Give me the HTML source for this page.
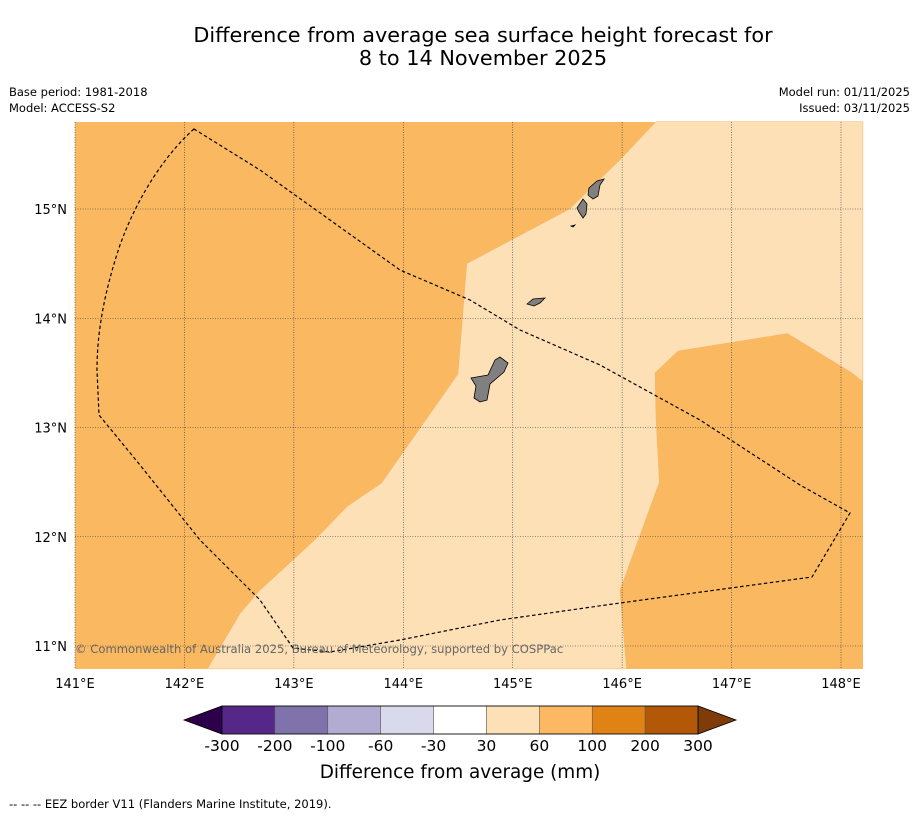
<!DOCTYPE html>
<html><head><meta charset="utf-8"><style>
body{margin:0;background:#fff;font-family:"DejaVu Sans",sans-serif;}
svg text{font-family:"DejaVu Sans",sans-serif;}
</style></head><body>
<svg width="919" height="816" viewBox="0 0 919 816">
<text x="483" y="42" font-size="20.8" text-anchor="middle">Difference from average sea surface height forecast for</text>
<text x="483" y="65" font-size="20.8" text-anchor="middle">8 to 14 November 2025</text>
<text x="9" y="96" font-size="11.5">Base period: 1981-2018</text>
<text x="9" y="112" font-size="11.5">Model: ACCESS-S2</text>
<text x="910" y="96" font-size="11.5" text-anchor="end">Model run: 01/11/2025</text>
<text x="910" y="112" font-size="11.5" text-anchor="end">Issued: 03/11/2025</text>
<g id="map"></g>
<g id="cbar"></g>
<text x="460" y="778" font-size="18.4" text-anchor="middle">Difference from average (mm)</text>
<text x="9" y="808" font-size="11.5">--  --  -- EEZ border V11 (Flanders Marine Institute, 2019).</text>
</svg>
<script>
const lonTicks=[141,142,143,144,145,146,147,148];
const latTicks=[11,12,13,14,15];
const regionLon=[146.31,148.2,148.2,148.1,147.51,146.51,146.3,146.31,146.34,145.98,146.04,142.21,142.51,142.69,143.19,143.49,143.8,144.5,144.58,145.52,145.98];
const regionLat=[15.8,15.8,13.42,13.5,13.86,13.7,13.5,13.07,12.5,11.51,10.79,10.79,11.3,11.51,11.97,12.28,12.49,13.49,14.5,15.0,15.45];
const cbLabels=["-300","-200","-100","-60","-30","30","60","100","200","300"];
const cbColors=["#542788","#8073ac","#b2abd2","#d8daeb","#ffffff","#fee0b6","#fdb863","#e08214","#b35806"];
const NS="http://www.w3.org/2000/svg";
const X0=75,X1=863,Y0=122,Y1=669;
const xs=lon=>75+(lon-141)*109.43;
const ys=lat=>209-(lat-15)*109.25;
function mk(t,a,p){const e=document.createElementNS(NS,t);for(const k in a)e.setAttribute(k,a[k]);p.appendChild(e);return e;}
const map=document.getElementById('map');
const bg=mk('rect',{x:X0,y:Y0,width:X1-X0,height:Y1-Y0,fill:'#fab861'},map);


const reg=mk('polygon',{points:regionLon.map((l,i)=>xs(l)+','+ys(regionLat[i])).join(' '),fill:'#fde0b6',stroke:'#f3b86a','stroke-width':0.5},map);


lonTicks.forEach(l=>{const x=xs(l);
 const g=mk('line',{x1:x,y1:Y0,x2:x,y2:Y1,stroke:'#333','stroke-width':0.6,'stroke-dasharray':'1,1.5'},map);
 
 const t=mk('text',{x:x,y:688,'font-size':13,'text-anchor':'middle'},map);t.textContent=l+'°E';
 });
latTicks.forEach(l=>{const y=ys(l);
 const g=mk('line',{x1:X0,y1:y,x2:X1,y2:y,stroke:'#333','stroke-width':0.6,'stroke-dasharray':'1,1.5'},map);
 
 const t=mk('text',{x:67,y:y+5,'font-size':13,'text-anchor':'end'},map);t.textContent=l+'°N';
 });
const eez=mk('path',{d:'M194,129 C170,150 140,190 120,245 C105,290 97,330 97,370 L99,415 L140,465 L200,540 L260,600 L293,648 L330,652 L400,640 L500,620 L620,603 L812,577 L850,513 L800,485 L700,420 L600,365 L520,330 L470,300 L400,270 L330,220 L260,170 Z',fill:'none',stroke:'#000','stroke-width':1.2,'stroke-dasharray':'3.5,2.5'},map);

const isl=['M471,378 L488,375 L495,360 L500,357 L508,363 L504,372 L490,384 L487,400 L480,402 L474,398 L476,386 Z','M527,304 L533,299 L545,298 L540,303 L534,306 Z','M577,208 L583,199 L587,204 L586,214 L583,218 L579,212 Z','M589,188 L597,181 L604,179 L600,185 L598,196 L593,199 L588,195 Z','M571,226 L575,225 L573,227 Z'];
isl.forEach(d=>{const p=mk('path',{d:d,fill:'#808080',stroke:'#000','stroke-width':0.8},map);
 });
const cp=mk('text',{x:75,y:653,'font-size':11.6,fill:'#666'},map);cp.textContent='© Commonwealth of Australia 2025, Bureau of Meteorology, supported by COSPPac';

const cb=document.getElementById('cbar');
const cx0=222,cx1=698,cy0=706,cy1=734,w=(cx1-cx0)/cbColors.length;
const lt=mk('polygon',{points:`184,720 ${cx0},${cy0} ${cx0},${cy1}`,fill:'#2d004b',stroke:'#000','stroke-width':0.8},cb);

const rt=mk('polygon',{points:`736,720 ${cx1},${cy0} ${cx1},${cy1}`,fill:'#7f3b08',stroke:'#000','stroke-width':0.8},cb);

cbColors.forEach((c,i)=>{const r=mk('rect',{x:cx0+i*w,y:cy0,width:w,height:cy1-cy0,fill:c,stroke:'#555','stroke-width':0.5},cb);
 });
mk('rect',{x:cx0,y:cy0,width:cx1-cx0,height:cy1-cy0,fill:'none',stroke:'#000','stroke-width':0.8},cb);
cbLabels.forEach((s,i)=>{const t=mk('text',{x:cx0+i*w,y:751,'font-size':15.5,'text-anchor':'middle'},cb);t.textContent=s;
 });
</script>
</body></html>
